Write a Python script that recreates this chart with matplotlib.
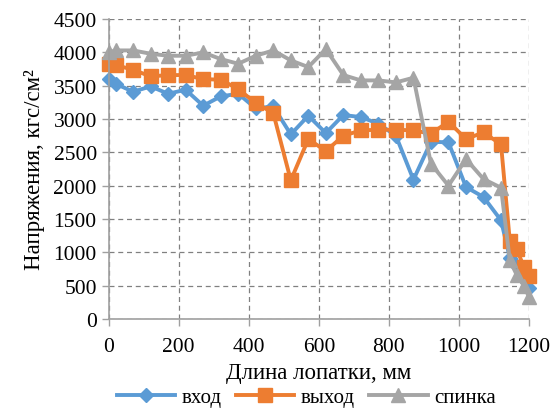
import matplotlib.pyplot as plt

plt.rcParams['font.family'] = ['Liberation Serif', 'DejaVu Serif']

# длина лопатки, мм
x = [0, 20, 70, 120, 170, 220, 270, 320, 370, 420, 470, 520, 570, 620, 670,
     720, 770, 820, 870, 920, 970, 1020, 1070, 1120, 1145, 1165, 1185, 1200]

vhod = [3600, 3530, 3410, 3490, 3380, 3440, 3200, 3340, 3380, 3160, 3190,
        2770, 3050, 2790, 3060, 3030, 2930, 2750, 2090, 2660, 2650, 1980,
        1830, 1480, 920, 800, 600, 470]

vyhod = [3830, 3810, 3740, 3640, 3660, 3660, 3600, 3590, 3450, 3240, 3090,
         2080, 2700, 2520, 2750, 2830, 2840, 2840, 2830, 2780, 2960, 2700,
         2800, 2620, 1170, 1050, 780, 640]

spinka = [4000, 4030, 4030, 3980, 3950, 3950, 4000, 3900, 3830, 3950, 4030,
          3880, 3780, 4050, 3660, 3580, 3580, 3550, 3620, 2330, 2000, 2400,
          2100, 1970, 880, 660, 500, 330]

fig = plt.figure(figsize=(5.54, 4.10), dpi=100)
ax = fig.add_axes([0.196, 0.2195, 0.759, 0.7315])

ax.plot(x, vhod, color='#5B9BD5', lw=2.8, marker='D', ms=7.5, label='вход',
        clip_on=False)
ax.plot(x, vyhod, color='#ED7D31', lw=2.8, marker='s', ms=10, label='выход',
        clip_on=False)
ax.plot(x, spinka, color='#A5A5A5', lw=2.8, marker='^', ms=10, label='спинка',
        clip_on=False)

ax.set_xlim(0, 1200)
ax.set_ylim(0, 4500)
ax.set_xticks(range(0, 1201, 200))
ax.set_yticks(range(0, 4501, 500))
ax.grid(True, color='#808080', ls=(0, (4, 3)), lw=0.9)
ax.set_axisbelow(True)

for s in ['top', 'right']:
    ax.spines[s].set_visible(False)
for s in ['left', 'bottom']:
    ax.spines[s].set_color('#A0A0A0')
    ax.spines[s].set_linewidth(1.2)
ax.tick_params(axis='both', colors='#A0A0A0', labelcolor='black',
               labelsize=15.5, length=5, width=1)
ax.tick_params(axis='x', pad=8)

ax.set_xlabel('Длина лопатки, мм', fontsize=16.5, labelpad=4)
ax.set_ylabel('Напряжения, кгс/см²', fontsize=16.5, labelpad=6)

ax.legend(loc='upper center', bbox_to_anchor=(0.47, -0.195), ncol=3,
          frameon=False, fontsize=15, handlelength=2.8, columnspacing=0.7,
          handletextpad=0.3, borderpad=0.0)

fig.savefig('out.png', dpi=100)
